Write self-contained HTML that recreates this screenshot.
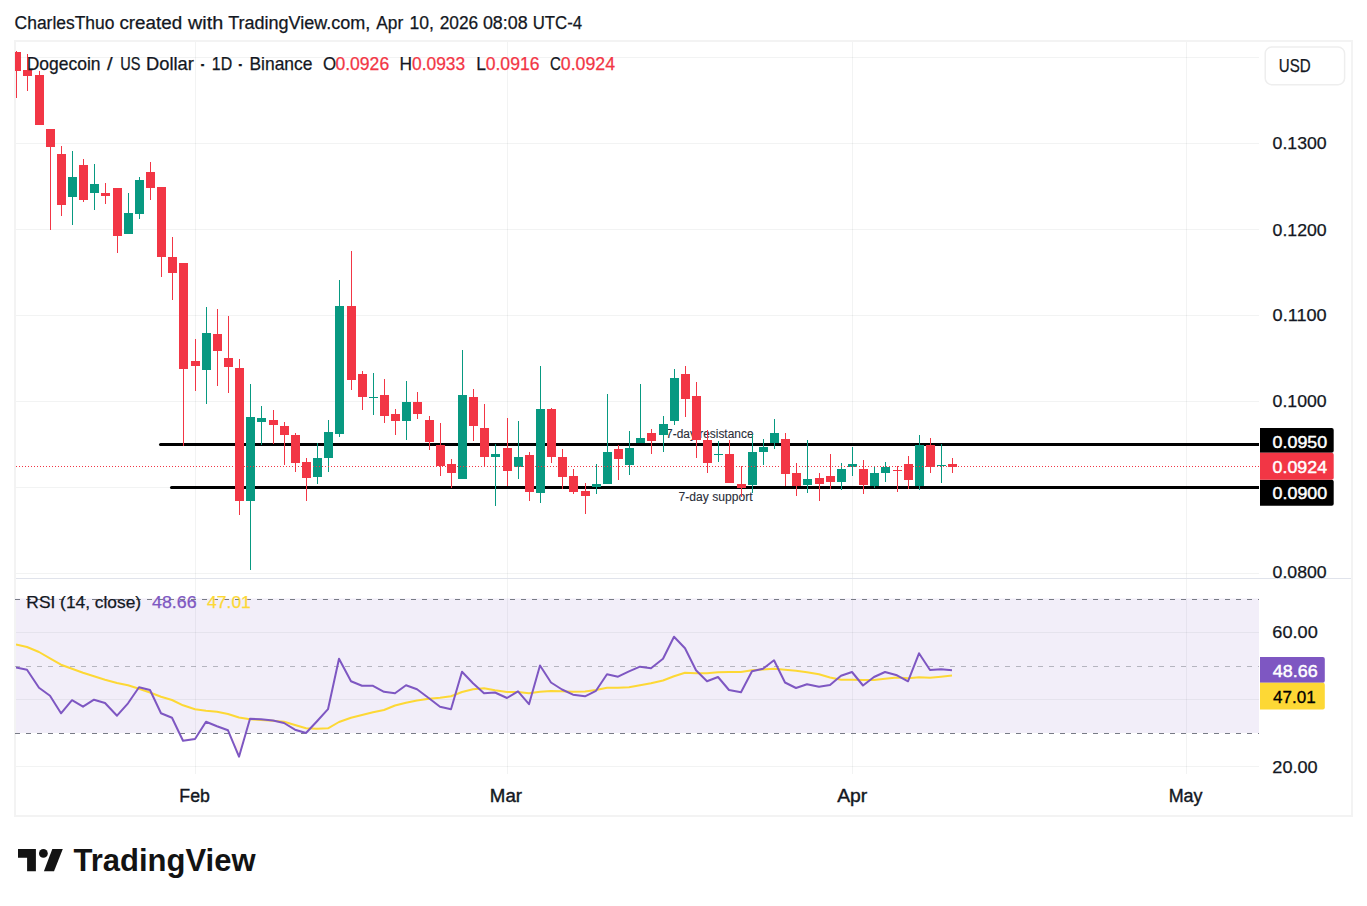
<!DOCTYPE html>
<html><head><meta charset="utf-8"><style>
html,body{margin:0;padding:0;background:#fff;}
body{width:1367px;height:906px;overflow:hidden;}
svg{display:block;font-family:"Liberation Sans", sans-serif;}
</style></head><body>
<svg width="1367" height="906" viewBox="0 0 1367 906">
<defs><clipPath id="os"><rect x="16" y="733.5" width="1243" height="40"/></clipPath><clipPath id="plot"><rect x="15" y="42" width="1244" height="536"/></clipPath><clipPath id="rplot"><rect x="16" y="579" width="1243" height="195"/></clipPath><linearGradient id="osg" gradientUnits="userSpaceOnUse" x1="0" y1="733.5" x2="0" y2="770"><stop offset="0" stop-color="#F23645" stop-opacity="0"/><stop offset="1" stop-color="#F23645" stop-opacity="0.2"/></linearGradient></defs>
<rect x="15" y="41" width="1337" height="775" fill="none" stroke="#F3F3F3" stroke-width="2"/>
<rect x="16" y="57" width="1243" height="1" fill="rgba(42,46,57,0.06)"/>
<rect x="16" y="143" width="1243" height="1" fill="rgba(42,46,57,0.06)"/>
<rect x="16" y="229" width="1243" height="1" fill="rgba(42,46,57,0.06)"/>
<rect x="16" y="315" width="1243" height="1" fill="rgba(42,46,57,0.06)"/>
<rect x="16" y="401" width="1243" height="1" fill="rgba(42,46,57,0.06)"/>
<rect x="16" y="487" width="1243" height="1" fill="rgba(42,46,57,0.06)"/>
<rect x="16" y="573" width="1243" height="1" fill="rgba(42,46,57,0.06)"/>
<rect x="195" y="42" width="1" height="732" fill="rgba(42,46,57,0.06)"/>
<rect x="507" y="42" width="1" height="732" fill="rgba(42,46,57,0.06)"/>
<rect x="852" y="42" width="1" height="732" fill="rgba(42,46,57,0.06)"/>
<rect x="1186" y="42" width="1" height="732" fill="rgba(42,46,57,0.06)"/>
<rect x="16" y="598.5" width="1243" height="134.5" fill="#7E57C2" fill-opacity="0.1"/>
<rect x="16" y="632" width="1243" height="1" fill="rgba(42,46,57,0.06)"/>
<rect x="16" y="699" width="1243" height="1" fill="rgba(42,46,57,0.06)"/>
<rect x="16" y="766" width="1243" height="1" fill="rgba(42,46,57,0.06)"/>
<line x1="15" y1="599.5" x2="1259" y2="599.5" stroke="#787B86" stroke-width="1" stroke-dasharray="5 6"/>
<line x1="15" y1="666.5" x2="1259" y2="666.5" stroke="#787B86" stroke-opacity="0.5" stroke-width="1" stroke-dasharray="5 6"/>
<line x1="15" y1="733.5" x2="1259" y2="733.5" stroke="#787B86" stroke-width="1" stroke-dasharray="5 6"/>
<g clip-path="url(#os)"><polygon points="16.0,733.5 16.0,667.5 27.0,669.7 39.0,687.8 50.0,695.8 61.0,713.3 72.0,700.2 83.0,706.7 94.0,699.7 105.0,703.0 117.0,715.7 128.0,703.3 139.0,687.2 150.0,690.0 161.0,713.2 172.0,717.7 183.0,740.8 195.0,739.0 206.0,721.8 217.0,726.2 228.0,730.3 239.0,756.7 250.0,718.7 261.0,719.3 273.0,720.5 284.0,723.0 295.0,729.7 306.0,733.0 317.0,721.3 328.0,709.2 339.0,658.7 351.0,681.3 362.0,685.8 373.0,685.8 384.0,691.8 395.0,693.3 406.0,685.2 417.0,689.2 429.0,698.3 440.0,706.7 451.0,709.2 462.0,671.7 473.0,683.3 484.0,693.3 495.0,692.5 507.0,698.0 518.0,691.3 529.0,704.2 540.0,665.5 551.0,682.5 562.0,689.5 573.0,694.7 585.0,696.3 596.0,690.8 607.0,674.2 618.0,676.7 629.0,671.3 640.0,666.7 651.0,668.3 663.0,658.8 674.0,636.7 685.0,648.3 696.0,670.3 707.0,681.3 718.0,677.0 729.0,690.0 741.0,692.2 752.0,671.3 763.0,668.7 774.0,660.3 785.0,682.5 796.0,688.0 807.0,684.2 819.0,686.7 830.0,685.0 841.0,675.8 852.0,672.0 863.0,685.5 874.0,677.0 885.0,672.0 897.0,675.3 908.0,681.3 919.0,653.3 930.0,670.0 941.0,669.3 952.0,670.2 952.0,733.5" fill="url(#osg)"/></g>
<g clip-path="url(#rplot)">
<polyline points="16.0,644.5 27.0,647.0 39.0,652.0 50.0,658.3 61.0,664.7 72.0,668.8 83.0,672.8 94.0,676.3 105.0,679.7 117.0,683.0 128.0,685.3 139.0,688.7 150.0,692.5 161.0,696.7 172.0,700.0 183.0,705.3 195.0,709.2 206.0,710.7 217.0,711.7 228.0,714.0 239.0,717.5 250.0,719.2 261.0,720.0 273.0,720.8 284.0,721.7 295.0,725.0 306.0,728.2 317.0,728.7 328.0,728.3 339.0,722.0 351.0,717.8 362.0,715.0 373.0,712.2 384.0,710.0 395.0,705.5 406.0,702.8 417.0,700.5 429.0,698.8 440.0,697.8 451.0,696.3 462.0,692.0 473.0,689.2 484.0,688.3 495.0,690.3 507.0,692.0 518.0,692.0 529.0,693.3 540.0,691.7 551.0,691.0 562.0,691.3 573.0,691.7 585.0,691.5 596.0,690.0 607.0,687.8 618.0,687.8 629.0,687.2 640.0,685.3 651.0,683.3 663.0,680.5 674.0,676.3 685.0,672.8 696.0,673.3 707.0,673.3 718.0,672.3 729.0,672.0 741.0,672.0 752.0,670.3 763.0,669.5 774.0,668.8 785.0,669.7 796.0,670.8 807.0,672.2 819.0,674.2 830.0,677.5 841.0,679.7 852.0,679.7 863.0,680.0 874.0,680.0 885.0,678.7 897.0,677.5 908.0,678.3 919.0,677.2 930.0,677.8 941.0,676.7 952.0,675.5" fill="none" stroke="#FDD835" stroke-width="2" stroke-linejoin="round"/>
<polyline points="16.0,667.5 27.0,669.7 39.0,687.8 50.0,695.8 61.0,713.3 72.0,700.2 83.0,706.7 94.0,699.7 105.0,703.0 117.0,715.7 128.0,703.3 139.0,687.2 150.0,690.0 161.0,713.2 172.0,717.7 183.0,740.8 195.0,739.0 206.0,721.8 217.0,726.2 228.0,730.3 239.0,756.7 250.0,718.7 261.0,719.3 273.0,720.5 284.0,723.0 295.0,729.7 306.0,733.0 317.0,721.3 328.0,709.2 339.0,658.7 351.0,681.3 362.0,685.8 373.0,685.8 384.0,691.8 395.0,693.3 406.0,685.2 417.0,689.2 429.0,698.3 440.0,706.7 451.0,709.2 462.0,671.7 473.0,683.3 484.0,693.3 495.0,692.5 507.0,698.0 518.0,691.3 529.0,704.2 540.0,665.5 551.0,682.5 562.0,689.5 573.0,694.7 585.0,696.3 596.0,690.8 607.0,674.2 618.0,676.7 629.0,671.3 640.0,666.7 651.0,668.3 663.0,658.8 674.0,636.7 685.0,648.3 696.0,670.3 707.0,681.3 718.0,677.0 729.0,690.0 741.0,692.2 752.0,671.3 763.0,668.7 774.0,660.3 785.0,682.5 796.0,688.0 807.0,684.2 819.0,686.7 830.0,685.0 841.0,675.8 852.0,672.0 863.0,685.5 874.0,677.0 885.0,672.0 897.0,675.3 908.0,681.3 919.0,653.3 930.0,670.0 941.0,669.3 952.0,670.2" fill="none" stroke="#7E57C2" stroke-width="2" stroke-linejoin="round"/>
</g>
<line x1="160.5" y1="444.5" x2="1259" y2="444.5" stroke="#000" stroke-width="3" stroke-linecap="round"/>
<line x1="171.5" y1="487.5" x2="1259" y2="487.5" stroke="#000" stroke-width="3" stroke-linecap="round"/>
<rect x="1259" y="420" width="10" height="100" fill="#fff"/>
<text x="666.09" y="437.6" font-size="12" fill="#2A2E39" textLength="87.44" lengthAdjust="spacingAndGlyphs" stroke="#2A2E39" stroke-width="0.1">7-day resistance</text>
<text x="678.58" y="501.0" font-size="12" fill="#2A2E39" textLength="74.01" lengthAdjust="spacingAndGlyphs" stroke="#2A2E39" stroke-width="0.1">7-day support</text>
<g clip-path="url(#plot)" shape-rendering="crispEdges">
<rect x="16" y="51" width="1" height="47" fill="#F23645"/>
<rect x="12" y="52" width="9" height="19" fill="#F23645"/>
<rect x="27" y="54" width="1" height="37" fill="#F23645"/>
<rect x="23" y="70" width="9" height="6" fill="#F23645"/>
<rect x="39" y="71" width="1" height="54" fill="#F23645"/>
<rect x="35" y="75" width="9" height="50" fill="#F23645"/>
<rect x="50" y="129" width="1" height="101" fill="#F23645"/>
<rect x="46" y="129" width="9" height="18" fill="#F23645"/>
<rect x="61" y="146" width="1" height="70" fill="#F23645"/>
<rect x="57" y="154" width="9" height="51" fill="#F23645"/>
<rect x="72" y="151" width="1" height="74" fill="#089981"/>
<rect x="68" y="177" width="9" height="20" fill="#089981"/>
<rect x="83" y="159" width="1" height="43" fill="#F23645"/>
<rect x="79" y="165" width="9" height="35" fill="#F23645"/>
<rect x="94" y="164" width="1" height="46" fill="#089981"/>
<rect x="90" y="184" width="9" height="9" fill="#089981"/>
<rect x="105" y="183" width="1" height="21" fill="#F23645"/>
<rect x="101" y="193" width="9" height="3" fill="#F23645"/>
<rect x="117" y="188" width="1" height="65" fill="#F23645"/>
<rect x="113" y="188" width="9" height="48" fill="#F23645"/>
<rect x="128" y="193" width="1" height="41" fill="#089981"/>
<rect x="124" y="213" width="9" height="21" fill="#089981"/>
<rect x="139" y="177" width="1" height="42" fill="#089981"/>
<rect x="135" y="180" width="9" height="34" fill="#089981"/>
<rect x="150" y="162" width="1" height="38" fill="#F23645"/>
<rect x="146" y="172" width="9" height="16" fill="#F23645"/>
<rect x="161" y="187" width="1" height="90" fill="#F23645"/>
<rect x="157" y="187" width="9" height="70" fill="#F23645"/>
<rect x="172" y="237" width="1" height="63" fill="#F23645"/>
<rect x="168" y="257" width="9" height="16" fill="#F23645"/>
<rect x="183" y="263" width="1" height="183" fill="#F23645"/>
<rect x="179" y="263" width="9" height="106" fill="#F23645"/>
<rect x="195" y="339" width="1" height="52" fill="#F23645"/>
<rect x="191" y="361" width="9" height="5" fill="#F23645"/>
<rect x="206" y="307" width="1" height="97" fill="#089981"/>
<rect x="202" y="333" width="9" height="37" fill="#089981"/>
<rect x="217" y="309" width="1" height="77" fill="#F23645"/>
<rect x="213" y="334" width="9" height="17" fill="#F23645"/>
<rect x="228" y="316" width="1" height="77" fill="#F23645"/>
<rect x="224" y="358" width="9" height="9" fill="#F23645"/>
<rect x="239" y="359" width="1" height="156" fill="#F23645"/>
<rect x="235" y="368" width="9" height="133" fill="#F23645"/>
<rect x="250" y="384" width="1" height="186" fill="#089981"/>
<rect x="246" y="417" width="9" height="84" fill="#089981"/>
<rect x="261" y="406" width="1" height="39" fill="#089981"/>
<rect x="257" y="418" width="9" height="4" fill="#089981"/>
<rect x="273" y="410" width="1" height="34" fill="#F23645"/>
<rect x="269" y="420" width="9" height="5" fill="#F23645"/>
<rect x="284" y="422" width="1" height="43" fill="#F23645"/>
<rect x="280" y="426" width="9" height="9" fill="#F23645"/>
<rect x="295" y="433" width="1" height="39" fill="#F23645"/>
<rect x="291" y="435" width="9" height="28" fill="#F23645"/>
<rect x="306" y="458" width="1" height="43" fill="#F23645"/>
<rect x="302" y="462" width="9" height="16" fill="#F23645"/>
<rect x="317" y="443" width="1" height="41" fill="#089981"/>
<rect x="313" y="458" width="9" height="19" fill="#089981"/>
<rect x="328" y="420" width="1" height="52" fill="#089981"/>
<rect x="324" y="432" width="9" height="26" fill="#089981"/>
<rect x="339" y="280" width="1" height="157" fill="#089981"/>
<rect x="335" y="306" width="9" height="128" fill="#089981"/>
<rect x="351" y="251" width="1" height="139" fill="#F23645"/>
<rect x="347" y="306" width="9" height="74" fill="#F23645"/>
<rect x="362" y="371" width="1" height="39" fill="#F23645"/>
<rect x="358" y="374" width="9" height="23" fill="#F23645"/>
<rect x="373" y="373" width="1" height="42" fill="#089981"/>
<rect x="369" y="397" width="9" height="1" fill="#089981"/>
<rect x="384" y="379" width="1" height="44" fill="#F23645"/>
<rect x="380" y="395" width="9" height="21" fill="#F23645"/>
<rect x="395" y="409" width="1" height="26" fill="#F23645"/>
<rect x="391" y="414" width="9" height="7" fill="#F23645"/>
<rect x="406" y="381" width="1" height="59" fill="#089981"/>
<rect x="402" y="402" width="9" height="19" fill="#089981"/>
<rect x="417" y="392" width="1" height="27" fill="#F23645"/>
<rect x="413" y="402" width="9" height="12" fill="#F23645"/>
<rect x="429" y="416" width="1" height="34" fill="#F23645"/>
<rect x="425" y="420" width="9" height="22" fill="#F23645"/>
<rect x="440" y="423" width="1" height="53" fill="#F23645"/>
<rect x="436" y="445" width="9" height="21" fill="#F23645"/>
<rect x="451" y="459" width="1" height="29" fill="#F23645"/>
<rect x="447" y="464" width="9" height="9" fill="#F23645"/>
<rect x="462" y="350" width="1" height="129" fill="#089981"/>
<rect x="458" y="395" width="9" height="84" fill="#089981"/>
<rect x="473" y="389" width="1" height="52" fill="#F23645"/>
<rect x="469" y="397" width="9" height="29" fill="#F23645"/>
<rect x="484" y="404" width="1" height="63" fill="#F23645"/>
<rect x="480" y="428" width="9" height="29" fill="#F23645"/>
<rect x="495" y="444" width="1" height="62" fill="#089981"/>
<rect x="491" y="454" width="9" height="3" fill="#089981"/>
<rect x="507" y="418" width="1" height="68" fill="#F23645"/>
<rect x="503" y="448" width="9" height="23" fill="#F23645"/>
<rect x="518" y="421" width="1" height="58" fill="#089981"/>
<rect x="514" y="457" width="9" height="10" fill="#089981"/>
<rect x="529" y="452" width="1" height="49" fill="#F23645"/>
<rect x="525" y="455" width="9" height="37" fill="#F23645"/>
<rect x="540" y="366" width="1" height="137" fill="#089981"/>
<rect x="536" y="409" width="9" height="84" fill="#089981"/>
<rect x="551" y="408" width="1" height="55" fill="#F23645"/>
<rect x="547" y="409" width="9" height="48" fill="#F23645"/>
<rect x="562" y="449" width="1" height="40" fill="#F23645"/>
<rect x="558" y="457" width="9" height="20" fill="#F23645"/>
<rect x="573" y="469" width="1" height="25" fill="#F23645"/>
<rect x="569" y="476" width="9" height="16" fill="#F23645"/>
<rect x="585" y="483" width="1" height="31" fill="#F23645"/>
<rect x="581" y="491" width="9" height="5" fill="#F23645"/>
<rect x="596" y="464" width="1" height="30" fill="#089981"/>
<rect x="592" y="484" width="9" height="3" fill="#089981"/>
<rect x="607" y="394" width="1" height="90" fill="#089981"/>
<rect x="603" y="452" width="9" height="32" fill="#089981"/>
<rect x="618" y="445" width="1" height="35" fill="#F23645"/>
<rect x="614" y="449" width="9" height="10" fill="#F23645"/>
<rect x="629" y="431" width="1" height="44" fill="#089981"/>
<rect x="625" y="448" width="9" height="17" fill="#089981"/>
<rect x="640" y="384" width="1" height="59" fill="#089981"/>
<rect x="636" y="438" width="9" height="5" fill="#089981"/>
<rect x="651" y="429" width="1" height="25" fill="#F23645"/>
<rect x="647" y="433" width="9" height="8" fill="#F23645"/>
<rect x="663" y="416" width="1" height="36" fill="#089981"/>
<rect x="659" y="424" width="9" height="11" fill="#089981"/>
<rect x="674" y="369" width="1" height="56" fill="#089981"/>
<rect x="670" y="378" width="9" height="43" fill="#089981"/>
<rect x="685" y="366" width="1" height="51" fill="#F23645"/>
<rect x="681" y="374" width="9" height="25" fill="#F23645"/>
<rect x="696" y="382" width="1" height="76" fill="#F23645"/>
<rect x="692" y="396" width="9" height="44" fill="#F23645"/>
<rect x="707" y="430" width="1" height="43" fill="#F23645"/>
<rect x="703" y="440" width="9" height="23" fill="#F23645"/>
<rect x="718" y="441" width="1" height="21" fill="#089981"/>
<rect x="714" y="454" width="9" height="1" fill="#089981"/>
<rect x="729" y="440" width="1" height="43" fill="#F23645"/>
<rect x="725" y="454" width="9" height="29" fill="#F23645"/>
<rect x="741" y="466" width="1" height="31" fill="#F23645"/>
<rect x="737" y="484" width="9" height="4" fill="#F23645"/>
<rect x="752" y="434" width="1" height="59" fill="#089981"/>
<rect x="748" y="452" width="9" height="33" fill="#089981"/>
<rect x="763" y="439" width="1" height="26" fill="#089981"/>
<rect x="759" y="447" width="9" height="5" fill="#089981"/>
<rect x="774" y="419" width="1" height="30" fill="#089981"/>
<rect x="770" y="433" width="9" height="10" fill="#089981"/>
<rect x="785" y="433" width="1" height="53" fill="#F23645"/>
<rect x="781" y="439" width="9" height="35" fill="#F23645"/>
<rect x="796" y="463" width="1" height="33" fill="#F23645"/>
<rect x="792" y="473" width="9" height="13" fill="#F23645"/>
<rect x="807" y="440" width="1" height="53" fill="#089981"/>
<rect x="803" y="479" width="9" height="6" fill="#089981"/>
<rect x="819" y="473" width="1" height="28" fill="#F23645"/>
<rect x="815" y="478" width="9" height="6" fill="#F23645"/>
<rect x="830" y="454" width="1" height="35" fill="#F23645"/>
<rect x="826" y="476" width="9" height="6" fill="#F23645"/>
<rect x="841" y="463" width="1" height="27" fill="#089981"/>
<rect x="837" y="469" width="9" height="13" fill="#089981"/>
<rect x="852" y="447" width="1" height="29" fill="#089981"/>
<rect x="848" y="464" width="9" height="3" fill="#089981"/>
<rect x="863" y="460" width="1" height="34" fill="#F23645"/>
<rect x="859" y="469" width="9" height="16" fill="#F23645"/>
<rect x="874" y="466" width="1" height="22" fill="#089981"/>
<rect x="870" y="473" width="9" height="13" fill="#089981"/>
<rect x="885" y="462" width="1" height="20" fill="#089981"/>
<rect x="881" y="467" width="9" height="6" fill="#089981"/>
<rect x="897" y="466" width="1" height="26" fill="#F23645"/>
<rect x="893" y="470" width="9" height="1" fill="#F23645"/>
<rect x="908" y="456" width="1" height="33" fill="#F23645"/>
<rect x="904" y="464" width="9" height="16" fill="#F23645"/>
<rect x="919" y="435" width="1" height="55" fill="#089981"/>
<rect x="915" y="445" width="9" height="41" fill="#089981"/>
<rect x="930" y="438" width="1" height="35" fill="#F23645"/>
<rect x="926" y="445" width="9" height="22" fill="#F23645"/>
<rect x="941" y="444" width="1" height="39" fill="#089981"/>
<rect x="937" y="465" width="9" height="1" fill="#089981"/>
<rect x="952" y="458" width="1" height="15" fill="#F23645"/>
<rect x="948" y="464" width="9" height="3" fill="#F23645"/>
</g>
<line x1="16" y1="466.5" x2="1259" y2="466.5" stroke="#F23645" stroke-width="1" stroke-dasharray="1 2"/>
<rect x="16" y="578" width="1335" height="1" fill="#E0E3EB"/>
<text x="1272.61" y="149.4" font-size="17" fill="#131722" textLength="54.08" lengthAdjust="spacingAndGlyphs" stroke="#131722" stroke-width="0.25">0.1300</text>
<text x="1272.61" y="235.5" font-size="17" fill="#131722" textLength="54.08" lengthAdjust="spacingAndGlyphs" stroke="#131722" stroke-width="0.25">0.1200</text>
<text x="1272.61" y="321.4" font-size="17" fill="#131722" textLength="54.08" lengthAdjust="spacingAndGlyphs" stroke="#131722" stroke-width="0.25">0.1100</text>
<text x="1272.61" y="407.4" font-size="17" fill="#131722" textLength="54.08" lengthAdjust="spacingAndGlyphs" stroke="#131722" stroke-width="0.25">0.1000</text>
<text x="1272.61" y="577.6" font-size="17" fill="#131722" textLength="54.08" lengthAdjust="spacingAndGlyphs" stroke="#131722" stroke-width="0.25">0.0800</text>
<text x="1272.38" y="638.4" font-size="17" fill="#131722" textLength="45.33" lengthAdjust="spacingAndGlyphs" stroke="#131722" stroke-width="0.25">60.00</text>
<text x="1272.39" y="772.5" font-size="17" fill="#131722" textLength="45.32" lengthAdjust="spacingAndGlyphs" stroke="#131722" stroke-width="0.25">20.00</text>
<rect x="1265.2" y="47.1" width="79.4" height="37.6" rx="6.5" fill="#fff" stroke="#EEEEEE" stroke-width="1.5"/>
<text x="1278.73" y="72.0" font-size="18.7" fill="#131722" textLength="31.89" lengthAdjust="spacingAndGlyphs" stroke="#131722" stroke-width="0.25">USD</text>
<path d="M1260,428 H1331.7 A2,2 0 0 1 1333.7,430 V450.8 A2,2 0 0 1 1331.7,452.8 H1260 Z" fill="#000"/>
<path d="M1260,479.7 H1331.7 A2,2 0 0 1 1333.7,481.7 V503.7 A2,2 0 0 1 1331.7,505.7 H1260 Z" fill="#000"/>
<path d="M1260,452.8 H1331.7 A2,2 0 0 1 1333.7,454.8 V477.7 A2,2 0 0 1 1331.7,479.7 H1260 Z" fill="#F23645"/>
<text x="1272.60" y="447.8" font-size="17" fill="#fff" textLength="54.59" lengthAdjust="spacingAndGlyphs" stroke="#fff" stroke-width="0.45">0.0950</text>
<text x="1272.61" y="472.5" font-size="17" fill="#fff" textLength="54.42" lengthAdjust="spacingAndGlyphs" stroke="#fff" stroke-width="0.45">0.0924</text>
<text x="1272.60" y="498.8" font-size="17" fill="#fff" textLength="54.59" lengthAdjust="spacingAndGlyphs" stroke="#fff" stroke-width="0.45">0.0900</text>
<path d="M1260,657 H1322.8 A2,2 0 0 1 1324.8,659 V680.8 A2,2 0 0 1 1322.8,682.8 H1260 Z" fill="#7E57C2"/>
<path d="M1260,682.8 H1322.8 A2,2 0 0 1 1324.8,684.8 V707.5 A2,2 0 0 1 1322.8,709.5 H1260 Z" fill="#FDD835"/>
<text x="1272.89" y="676.7" font-size="17" fill="#fff" textLength="44.80" lengthAdjust="spacingAndGlyphs" stroke="#fff" stroke-width="0.45">48.66</text>
<text x="1272.91" y="703.0" font-size="17" fill="#000" textLength="42.73" lengthAdjust="spacingAndGlyphs" stroke="#000" stroke-width="0.3">47.01</text>
<text x="179.35" y="801.8" font-size="18" fill="#131722" textLength="30.49" lengthAdjust="spacingAndGlyphs" stroke="#131722" stroke-width="0.4">Feb</text>
<text x="489.87" y="801.8" font-size="18" fill="#131722" textLength="32.14" lengthAdjust="spacingAndGlyphs" stroke="#131722" stroke-width="0.4">Mar</text>
<text x="837.16" y="801.8" font-size="18" fill="#131722" textLength="30.06" lengthAdjust="spacingAndGlyphs" stroke="#131722" stroke-width="0.4">Apr</text>
<text x="1168.63" y="801.8" font-size="18" fill="#131722" textLength="33.80" lengthAdjust="spacingAndGlyphs" stroke="#131722" stroke-width="0.4">May</text>
<text x="26.77" y="69.7" font-size="17.7" fill="#131722" textLength="73.77" lengthAdjust="spacingAndGlyphs" stroke="#131722" stroke-width="0.25">Dogecoin</text>
<text x="107.10" y="69.7" font-size="17.7" fill="#131722" textLength="5.60" lengthAdjust="spacingAndGlyphs" stroke="#131722" stroke-width="0.25">/</text>
<text x="120.28" y="69.7" font-size="17.7" fill="#131722" textLength="20.19" lengthAdjust="spacingAndGlyphs" stroke="#131722" stroke-width="0.25">US</text>
<text x="146.00" y="69.7" font-size="17.7" fill="#131722" textLength="47.81" lengthAdjust="spacingAndGlyphs" stroke="#131722" stroke-width="0.25">Dollar</text>
<text x="197.96" y="69.7" font-size="17.7" fill="#131722" textLength="9.09" lengthAdjust="spacingAndGlyphs" stroke="#131722" stroke-width="0.25">·</text>
<text x="211.79" y="69.7" font-size="17.7" fill="#131722" textLength="20.38" lengthAdjust="spacingAndGlyphs" stroke="#131722" stroke-width="0.25">1D</text>
<text x="235.86" y="69.7" font-size="17.7" fill="#131722" textLength="9.09" lengthAdjust="spacingAndGlyphs" stroke="#131722" stroke-width="0.25">·</text>
<text x="249.47" y="69.7" font-size="17.7" fill="#131722" textLength="63.00" lengthAdjust="spacingAndGlyphs" stroke="#131722" stroke-width="0.25">Binance</text>
<text x="323.00" y="69.7" font-size="17.7" fill="#131722" textLength="13.10" lengthAdjust="spacingAndGlyphs" stroke="#131722" stroke-width="0.25">O</text>
<text x="335.41" y="69.7" font-size="17.7" fill="#F23645" textLength="53.76" lengthAdjust="spacingAndGlyphs" stroke="#F23645" stroke-width="0.25">0.0926</text>
<text x="399.48" y="69.7" font-size="17.7" fill="#131722" textLength="12.54" lengthAdjust="spacingAndGlyphs" stroke="#131722" stroke-width="0.25">H</text>
<text x="412.02" y="69.7" font-size="17.7" fill="#F23645" textLength="53.14" lengthAdjust="spacingAndGlyphs" stroke="#F23645" stroke-width="0.25">0.0933</text>
<text x="476.27" y="69.7" font-size="17.7" fill="#131722" textLength="9.71" lengthAdjust="spacingAndGlyphs" stroke="#131722" stroke-width="0.25">L</text>
<text x="485.71" y="69.7" font-size="17.7" fill="#F23645" textLength="53.76" lengthAdjust="spacingAndGlyphs" stroke="#F23645" stroke-width="0.25">0.0916</text>
<text x="549.94" y="69.7" font-size="17.7" fill="#131722" textLength="10.83" lengthAdjust="spacingAndGlyphs" stroke="#131722" stroke-width="0.25">C</text>
<text x="560.81" y="69.7" font-size="17.7" fill="#F23645" textLength="54.21" lengthAdjust="spacingAndGlyphs" stroke="#F23645" stroke-width="0.25">0.0924</text>
<text x="26.38" y="607.5" font-size="17" fill="#131722" textLength="114.70" lengthAdjust="spacingAndGlyphs" stroke="#131722" stroke-width="0.25">RSI (14, close)</text>
<text x="152.09" y="607.5" font-size="17" fill="#7E57C2" textLength="44.49" lengthAdjust="spacingAndGlyphs" stroke="#7E57C2" stroke-width="0.25">48.66</text>
<text x="207.10" y="607.5" font-size="17" fill="#FDD835" textLength="43.76" lengthAdjust="spacingAndGlyphs" stroke="#FDD835" stroke-width="0.25">47.01</text>
<text x="14.61" y="29.2" font-size="18" fill="#131722" textLength="99.82" lengthAdjust="spacingAndGlyphs" stroke="#131722" stroke-width="0.25">CharlesThuo</text>
<text x="119.40" y="29.2" font-size="18" fill="#131722" textLength="62.71" lengthAdjust="spacingAndGlyphs" stroke="#131722" stroke-width="0.25">created</text>
<text x="188.03" y="29.2" font-size="18" fill="#131722" textLength="35.15" lengthAdjust="spacingAndGlyphs" stroke="#131722" stroke-width="0.25">with</text>
<text x="228.20" y="29.2" font-size="18" fill="#131722" textLength="142.20" lengthAdjust="spacingAndGlyphs" stroke="#131722" stroke-width="0.25">TradingView.com,</text>
<text x="376.27" y="29.2" font-size="18" fill="#131722" textLength="26.92" lengthAdjust="spacingAndGlyphs" stroke="#131722" stroke-width="0.25">Apr</text>
<text x="409.46" y="29.2" font-size="18" fill="#131722" textLength="24.42" lengthAdjust="spacingAndGlyphs" stroke="#131722" stroke-width="0.25">10,</text>
<text x="439.63" y="29.2" font-size="18" fill="#131722" textLength="38.53" lengthAdjust="spacingAndGlyphs" stroke="#131722" stroke-width="0.25">2026</text>
<text x="482.90" y="29.2" font-size="18" fill="#131722" textLength="44.67" lengthAdjust="spacingAndGlyphs" stroke="#131722" stroke-width="0.25">08:08</text>
<text x="532.71" y="29.2" font-size="18" fill="#131722" textLength="49.39" lengthAdjust="spacingAndGlyphs" stroke="#131722" stroke-width="0.25">UTC-4</text>
<g fill="#131313"><path d="M18,849 H35.9 V871.2 H27.1 V857.8 H18 Z"/><circle cx="43.4" cy="853.4" r="4.4"/><path d="M52.3,849 H62.8 L54,871.2 H43.9 Z"/></g>
<text x="73.5" y="871.2" font-size="31" font-weight="700" fill="#131313">TradingView</text>
</svg>
</body></html>
